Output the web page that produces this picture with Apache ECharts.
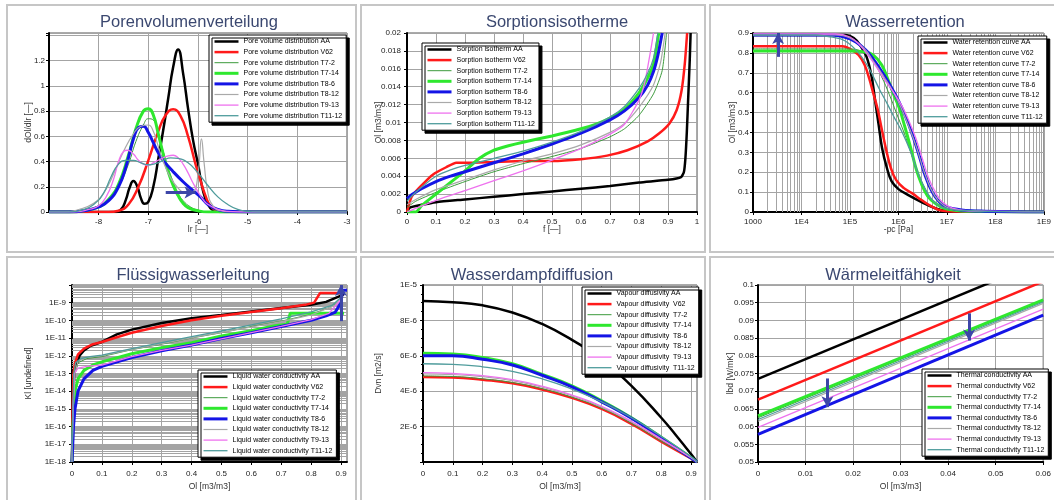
<!DOCTYPE html>
<html><head><meta charset="utf-8">
<script src="https://cdn.jsdelivr.net/npm/echarts@6/dist/echarts.min.js"></script>
<style>html,body{margin:0;padding:0;background:#fff}#c{width:1054px;height:500px}</style>
</head><body><div id="c"></div><script>
// ---------- series identity ----------
const seriesKeys = ['AA','V62','T7-2','T7-14','T8-6','T8-12','T9-13','T11-12'];
const lineColors = ['#000000','#ff1a1a','#3c9a3c','#2ee82e','#1414e6','#a9a9a9','#ee72ee','#4f9c9c'];
const lineWidths = [2.5,2.5,1,3,3,1.2,1.3,1.3];

// ---------- text ----------
const panelTitles = ['Porenvolumenverteilung','Sorptionsisotherme','Wasserretention','Flüssigwasserleitung','Wasserdampfdiffusion','Wärmeleitfähigkeit'];
const legendPrefixes = ['Pore volume distribution ','Sorption isotherm ','Water retention curve ','Liquid water conductivity ','Vapour diffusivity ','Thermal conductivity '];
const xAxisNames = ['lr [—]','f [—]','-pc [Pa]','Ol [m3/m3]','Ol [m3/m3]','Ol [m3/m3]'];
const yAxisNames = ['dOl/dlr [—]','Ol [m3/m3]','Ol [m3/m3]','Kl [undefined]','Dvn [m2/s]','lbd [W/mK]'];

// ---------- Panel 1: pore volume distribution ----------
const poreAA = [[-9,0],[-7.7,0],[-7.55,0.02],[-7.45,0.1],[-7.38,0.19],[-7.3,0.245],[-7.22,0.2],[-7.15,0.11],[-7.08,0.065],[-7.0,0.08],[-6.9,0.2],[-6.8,0.42],[-6.7,0.65],[-6.6,0.9],[-6.5,1.15],[-6.4,1.29],[-6.3,1.1],[-6.2,0.82],[-6.1,0.57],[-6.0,0.38],[-5.9,0.17],[-5.8,0.06],[-5.7,0.015],[-5.55,0],[-3,0]];
const poreV62 = [[-9,0],[-7.8,0],[-7.6,0.01],[-7.4,0.06],[-7.2,0.2],[-7.0,0.41],[-6.8,0.64],[-6.65,0.77],[-6.5,0.815],[-6.35,0.76],[-6.2,0.6],[-6.05,0.38],[-5.95,0.25],[-5.85,0.13],[-5.75,0.05],[-5.6,0.01],[-5.4,0],[-3,0]];
const poreT7_2 = [[-9,0],[-8.6,0],[-8.3,0.01],[-8.0,0.04],[-7.8,0.1],[-7.6,0.2],[-7.4,0.38],[-7.25,0.56],[-7.1,0.69],[-7.0,0.74],[-6.9,0.73],[-6.8,0.62],[-6.7,0.48],[-6.6,0.35],[-6.5,0.24],[-6.4,0.15],[-6.3,0.09],[-6.15,0.04],[-6.0,0.015],[-5.8,0],[-3,0]];
const poreT7_14 = [[-9,0],[-8.6,0],[-8.3,0.01],[-8.0,0.04],[-7.8,0.1],[-7.6,0.22],[-7.4,0.45],[-7.25,0.66],[-7.1,0.8],[-7.0,0.82],[-6.9,0.77],[-6.8,0.62],[-6.7,0.46],[-6.6,0.32],[-6.5,0.21],[-6.4,0.13],[-6.3,0.07],[-6.2,0.035],[-6.0,0.01],[-5.8,0],[-3,0]];
const poreT8_6 = [[-9,0],[-8.6,0],[-8.3,0.01],[-8.0,0.04],[-7.8,0.09],[-7.6,0.2],[-7.45,0.36],[-7.3,0.58],[-7.2,0.67],[-7.1,0.68],[-7.0,0.63],[-6.9,0.55],[-6.8,0.47],[-6.7,0.41],[-6.5,0.32],[-6.3,0.24],[-6.1,0.17],[-5.95,0.12],[-5.8,0.06],[-5.6,0.02],[-5.4,0.005],[-5.0,0],[-3,0]];
const poreT8_12 = [[-9,0],[-8.7,0],[-8.4,0.02],[-8.1,0.07],[-7.9,0.15],[-7.7,0.3],[-7.5,0.48],[-7.3,0.62],[-7.15,0.68],[-7.0,0.69],[-6.9,0.64],[-6.8,0.52],[-6.7,0.4],[-6.55,0.27],[-6.4,0.19],[-6.25,0.15],[-6.1,0.16],[-6.0,0.3],[-5.93,0.58],[-5.88,0.4],[-5.8,0.15],[-5.7,0.05],[-5.55,0.01],[-5.3,0],[-3,0]];
const poreT9_13 = [[-9,0],[-8.5,0],[-8.2,0.02],[-8.0,0.05],[-7.85,0.12],[-7.7,0.26],[-7.6,0.4],[-7.5,0.48],[-7.42,0.49],[-7.3,0.46],[-7.2,0.41],[-7.1,0.38],[-7.0,0.37],[-6.9,0.39],[-6.75,0.42],[-6.6,0.445],[-6.5,0.45],[-6.4,0.43],[-6.3,0.38],[-6.2,0.31],[-6.1,0.23],[-6.0,0.16],[-5.9,0.1],[-5.8,0.06],[-5.6,0.02],[-5.4,0.005],[-5.0,0],[-3,0]];
const poreT11_12 = [[-9,0],[-8.6,0],[-8.3,0.02],[-8.1,0.06],[-7.9,0.15],[-7.75,0.28],[-7.6,0.38],[-7.45,0.41],[-7.3,0.41],[-7.15,0.39],[-7.0,0.375],[-6.85,0.385],[-6.7,0.41],[-6.55,0.43],[-6.4,0.425],[-6.2,0.39],[-6.0,0.31],[-5.8,0.21],[-5.6,0.12],[-5.4,0.06],[-5.2,0.02],[-5.0,0.005],[-4.8,0],[-3,0]];

// ---------- Panel 2: sorption isotherm ----------
const sorpAA = [[0,0],[0.01,0.0005],[0.05,0.0008],[0.1,0.0011],[0.2,0.0014],[0.3,0.0017],[0.4,0.002],[0.5,0.0023],[0.6,0.0026],[0.7,0.0029],[0.8,0.0033],[0.9,0.0036],[0.945,0.0039],[0.955,0.0045],[0.96,0.006],[0.965,0.009],[0.97,0.013],[0.975,0.017],[0.978,0.02]];
const sorpV62 = [[0,0],[0.016,0.0017],[0.045,0.0028],[0.09,0.0042],[0.135,0.005],[0.17,0.0055],[0.2,0.0055],[0.3,0.0056],[0.4,0.0057],[0.5,0.0057],[0.6,0.0059],[0.69,0.0063],[0.76,0.0069],[0.83,0.0079],[0.87,0.0088],[0.905,0.0099],[0.93,0.0114],[0.947,0.0136],[0.958,0.0166],[0.966,0.02]];
const sorpT7_2 = [[0,0.0005],[0.03,0.0012],[0.1,0.0022],[0.2,0.0034],[0.3,0.0045],[0.4,0.0054],[0.5,0.0062],[0.6,0.0071],[0.7,0.0084],[0.75,0.0093],[0.8,0.0108],[0.85,0.0132],[0.88,0.0158],[0.895,0.02]];
const sorpT7_14 = [[0,0],[0.03,0],[0.05,0.0007],[0.1,0.002],[0.15,0.0033],[0.2,0.0046],[0.25,0.006],[0.3,0.0069],[0.35,0.0074],[0.4,0.0078],[0.5,0.0085],[0.6,0.0093],[0.65,0.0098],[0.7,0.0105],[0.75,0.0115],[0.8,0.0133],[0.83,0.015],[0.85,0.0165],[0.868,0.02]];
const sorpT8_6 = [[0,0.0015],[0.02,0.002],[0.05,0.0026],[0.1,0.0034],[0.15,0.004],[0.2,0.0045],[0.3,0.0055],[0.4,0.0065],[0.5,0.0076],[0.6,0.0088],[0.7,0.0103],[0.75,0.0113],[0.8,0.0128],[0.83,0.0142],[0.85,0.0157],[0.865,0.0175],[0.88,0.02]];
const sorpT8_12 = [[0,0.0008],[0.03,0.0014],[0.1,0.0025],[0.2,0.0036],[0.3,0.0047],[0.4,0.0057],[0.5,0.0065],[0.6,0.0075],[0.7,0.0089],[0.75,0.0099],[0.8,0.0117],[0.85,0.0142],[0.875,0.0168],[0.89,0.02]];
const sorpT9_13 = [[0,0],[0.03,0.0004],[0.1,0.0013],[0.2,0.0024],[0.3,0.0035],[0.4,0.0046],[0.5,0.0058],[0.6,0.0071],[0.7,0.0087],[0.75,0.0098],[0.8,0.0125],[0.82,0.0145],[0.84,0.018],[0.85,0.02]];
const sorpT11_12 = [[0,0.0012],[0.03,0.0022],[0.07,0.0033],[0.1,0.004],[0.15,0.0047],[0.2,0.0052],[0.3,0.006],[0.4,0.0068],[0.5,0.0078],[0.6,0.009],[0.7,0.0106],[0.75,0.0118],[0.8,0.0138],[0.83,0.0155],[0.85,0.0172],[0.865,0.02]];

// ---------- Panel 3: water retention ----------
const retAA = [[1000,0.89],[8e4,0.89],[1.2e5,0.875],[1.6e5,0.84],[2.2e5,0.78],[2.8e5,0.68],[3.3e5,0.56],[3.9e5,0.44],[4.6e5,0.32],[5.8e5,0.22],[7.2e5,0.155],[1e6,0.115],[1.6e6,0.085],[3e6,0.05],[5.6e6,0.02],[1e7,0.005],[3e7,0.002],[1e9,0]];
const retV62 = [[1000,0.833],[7e4,0.833],[1e5,0.82],[1.5e5,0.79],[2e5,0.74],[2.5e5,0.67],[3e5,0.6],[3.7e5,0.52],[4.5e5,0.42],[5.5e5,0.32],[7e5,0.22],[9e5,0.16],[1.3e6,0.12],[1.9e6,0.095],[3e6,0.06],[4.8e6,0.028],[7.6e6,0.008],[2e7,0.002],[1e9,0]];
const retT7_2 = [[1000,0.82],[1e5,0.82],[2e5,0.8],[3e5,0.76],[4.5e5,0.68],[6.5e5,0.59],[9e5,0.5],[1.3e6,0.4],[1.8e6,0.3],[2.5e6,0.2],[3.5e6,0.12],[5e6,0.06],[8e6,0.025],[2e7,0.007],[1e9,0]];
const retT7_14 = [[1000,0.81],[1e5,0.81],[2e5,0.805],[3e5,0.79],[4.5e5,0.74],[6e5,0.67],[8e5,0.59],[1.05e6,0.52],[1.35e6,0.43],[1.8e6,0.32],[2.3e6,0.22],[3e6,0.14],[4e6,0.08],[6e6,0.04],[1e7,0.015],[3e7,0.004],[1e9,0]];
const retT8_6 = [[1000,0.89],[4e4,0.89],[1e5,0.87],[2e5,0.82],[3e5,0.77],[5e5,0.69],[7e5,0.63],[1e6,0.56],[1.4e6,0.48],[2e6,0.38],[2.7e6,0.28],[3.6e6,0.18],[5e6,0.1],[7e6,0.05],[1e7,0.025],[2e7,0.01],[6e7,0.004],[1e9,0]];
const retT8_12 = [[1000,0.89],[5e4,0.89],[1e5,0.875],[2e5,0.82],[3e5,0.76],[5e5,0.68],[8e5,0.6],[1.2e6,0.51],[1.7e6,0.42],[2.4e6,0.32],[3.3e6,0.21],[4.6e6,0.12],[6.5e6,0.06],[1.1e7,0.02],[3e7,0.005],[1e9,0]];
const retT9_13 = [[1000,0.895],[5e4,0.895],[1e5,0.88],[1.6e5,0.84],[2.5e5,0.78],[3.5e5,0.73],[5e5,0.67],[8e5,0.6],[1.2e6,0.53],[1.7e6,0.45],[2.3e6,0.37],[3.1e6,0.27],[4.2e6,0.17],[5.8e6,0.1],[8e6,0.05],[1.3e7,0.02],[3e7,0.006],[1e9,0.002]];
const retT11_12 = [[1000,0.89],[2e4,0.89],[4e4,0.88],[8e4,0.86],[1.5e5,0.8],[2.5e5,0.72],[4e5,0.62],[6e5,0.54],[8e5,0.48],[1.2e6,0.4],[1.8e6,0.3],[2.5e6,0.2],[3.5e6,0.12],[5e6,0.06],[8e6,0.025],[2e7,0.008],[1e9,0]];

// ---------- Panel 4: liquid water conductivity ----------
const condAA = [[0,1e-18],[0.002,1e-16],[0.004,1e-14],[0.008,1e-13],[0.015,3e-13],[0.025,1e-12],[0.04,2e-12],[0.06,3.5e-12],[0.1,6e-12],[0.15,1.6e-11],[0.2,3e-11],[0.3,7e-11],[0.4,1.3e-10],[0.5,2e-10],[0.6,3.2e-10],[0.7,5e-10],[0.8,7.5e-10],[0.85,1.1e-9],[0.9,2.5e-9],[0.91,3e-9]];
const condV62 = [[0,1e-18],[0.002,1e-15],[0.005,1e-13],[0.01,4e-13],[0.02,1.2e-12],[0.04,2.5e-12],[0.07,4.5e-12],[0.1,6e-12],[0.15,1.1e-11],[0.2,2e-11],[0.3,4.8e-11],[0.4,1e-10],[0.5,1.8e-10],[0.6,3e-10],[0.7,4.8e-10],[0.78,7.5e-10],[0.81,1e-9],[0.83,3.5e-9],[0.9,3.5e-9],[0.905,3e-9]];
const condT7_2 = [[0,1e-18],[0.004,1e-15],[0.01,1e-13],[0.02,4e-13],[0.05,7e-13],[0.1,9e-13],[0.2,2.2e-12],[0.3,4.5e-12],[0.4,1e-11],[0.5,2e-11],[0.6,4.5e-11],[0.7,9e-11],[0.8,2.2e-10],[0.87,6e-10],[0.9,2e-9]];
const condT7_14 = [[0,1e-18],[0.003,1e-16],[0.01,1e-14],[0.02,5e-14],[0.04,1.5e-13],[0.07,3e-13],[0.1,4.5e-13],[0.2,1.3e-12],[0.3,2.8e-12],[0.4,5.5e-12],[0.5,1.3e-11],[0.6,2.6e-11],[0.68,5e-11],[0.72,6e-11],[0.73,2.5e-10],[0.91,2.5e-10]];
const condT8_6 = [[0,1e-18],[0.005,1e-16],[0.01,1e-15],[0.02,1e-14],[0.04,5e-14],[0.07,1.5e-13],[0.1,2.5e-13],[0.2,8e-13],[0.3,1.9e-12],[0.4,4e-12],[0.5,9.5e-12],[0.6,2e-11],[0.7,4.5e-11],[0.8,1e-10],[0.85,1.8e-10],[0.88,2.8e-10],[0.9,1e-9],[0.905,5e-9],[0.92,5e-9]];
const condT8_12 = [[0,1e-18],[0.004,1e-15],[0.01,1e-13],[0.02,5e-13],[0.05,8e-13],[0.1,1e-12],[0.2,2.3e-12],[0.3,4.8e-12],[0.4,1.05e-11],[0.5,2.1e-11],[0.6,4.2e-11],[0.7,8.5e-11],[0.8,2e-10],[0.88,7e-10],[0.9,2e-9]];
const condT9_13 = [[0,1e-18],[0.003,1e-15],[0.008,1e-13],[0.02,2e-13],[0.05,2.5e-13],[0.1,3e-13],[0.2,9e-13],[0.3,2e-12],[0.4,4e-12],[0.5,9e-12],[0.6,2e-11],[0.7,4.5e-11],[0.8,1.1e-10],[0.86,2.5e-10],[0.9,1.5e-9],[0.905,4e-9]];
const condT11_12 = [[0,1e-18],[0.003,1e-15],[0.006,1e-13],[0.012,4e-13],[0.03,7e-13],[0.06,9e-13],[0.1,1.1e-12],[0.2,2.5e-12],[0.3,5.5e-12],[0.4,1.2e-11],[0.5,2.5e-11],[0.6,5.5e-11],[0.7,1.2e-10],[0.8,3e-10],[0.87,7e-10],[0.9,2e-9],[0.905,3e-9]];

// ---------- Panel 5: vapour diffusivity ----------
const vapAA = [[0,9.1e-6],[0.1,9.03e-6],[0.2,8.85e-6],[0.3,8.45e-6],[0.4,7.8e-6],[0.5,6.9e-6],[0.6,5.8e-6],[0.7,4.3e-6],[0.8,2.5e-6],[0.85,1.5e-6],[0.9,0.45e-6],[0.92,0]];
const vapV62 = [[0,4.8e-6],[0.1,4.78e-6],[0.2,4.65e-6],[0.3,4.45e-6],[0.4,4.1e-6],[0.5,3.62e-6],[0.6,3e-6],[0.7,2.15e-6],[0.8,1.15e-6],[0.9,0.2e-6],[0.92,0]];
const vapT7_2 = [[0,4.86e-6],[0.1,4.83e-6],[0.2,4.7e-6],[0.3,4.49e-6],[0.4,4.14e-6],[0.5,3.66e-6],[0.6,3.04e-6],[0.7,2.18e-6],[0.8,1.17e-6],[0.9,0.21e-6],[0.92,0]];
const vapT7_14 = [[0,6.15e-6],[0.1,6.1e-6],[0.2,5.9e-6],[0.3,5.55e-6],[0.4,4.95e-6],[0.5,4.3e-6],[0.6,3.45e-6],[0.7,2.5e-6],[0.8,1.4e-6],[0.9,0.25e-6],[0.92,0]];
const vapT8_6 = [[0,6.0e-6],[0.1,6.0e-6],[0.2,5.8e-6],[0.3,5.48e-6],[0.4,4.9e-6],[0.5,4.25e-6],[0.6,3.4e-6],[0.7,2.47e-6],[0.8,1.36e-6],[0.9,0.22e-6],[0.92,0]];
const vapT8_12 = [[0,4.98e-6],[0.1,4.94e-6],[0.2,4.82e-6],[0.3,4.6e-6],[0.4,4.23e-6],[0.5,3.74e-6],[0.6,3.1e-6],[0.7,2.26e-6],[0.8,1.27e-6],[0.9,0.24e-6],[0.92,0]];
const vapT9_13 = [[0,5.05e-6],[0.1,5.0e-6],[0.2,4.88e-6],[0.3,4.65e-6],[0.4,4.28e-6],[0.5,3.78e-6],[0.6,3.15e-6],[0.7,2.3e-6],[0.8,1.3e-6],[0.9,0.25e-6],[0.92,0]];
const vapT11_12 = [[0,5.55e-6],[0.1,5.52e-6],[0.2,5.38e-6],[0.3,5.12e-6],[0.4,4.7e-6],[0.5,4.12e-6],[0.6,3.4e-6],[0.7,2.5e-6],[0.8,1.45e-6],[0.9,0.3e-6],[0.92,0]];

// ---------- Panel 6: thermal conductivity ----------
const thermAA = [[0,0.0735],[0.06,0.1069]];
const thermV62 = [[0,0.0676],[0.06,0.101]];
const thermT7_2 = [[0,0.0625],[0.06,0.0955]];
const thermT7_14 = [[0,0.063],[0.06,0.0958]];
const thermT8_6 = [[0,0.0578],[0.06,0.0915]];
const thermT8_12 = [[0,0.0615],[0.06,0.0948]];
const thermT9_13 = [[0,0.0598],[0.06,0.0932]];
const thermT11_12 = [[0,0.062],[0.06,0.0952]];

// ---------- annotation arrows (data coordinates) ----------
const poreArrows = [[[-6.65,0.155],[-6.05,0.155]]];
const retArrows = [[[3300,0.78],[3300,0.9]]];
const condArrows = [[[0.9,9e-11],[0.9,9.8e-9]]];
const thermArrows = [[[0.0146,0.0736],[0.0146,0.0655]],[[0.0444,0.092],[0.0444,0.0843]]];

// log minor grid multipliers
const logMinorMults = [2,3,4,5,6,7,8,9];

const panelData = [
  [poreAA,poreV62,poreT7_2,poreT7_14,poreT8_6,poreT8_12,poreT9_13,poreT11_12],
  [sorpAA,sorpV62,sorpT7_2,sorpT7_14,sorpT8_6,sorpT8_12,sorpT9_13,sorpT11_12],
  [retAA,retV62,retT7_2,retT7_14,retT8_6,retT8_12,retT9_13,retT11_12],
  [condAA,condV62,condT7_2,condT7_14,condT8_6,condT8_12,condT9_13,condT11_12],
  [vapAA,vapV62,vapT7_2,vapT7_14,vapT8_6,vapT8_12,vapT9_13,vapT11_12],
  [thermAA,thermV62,thermT7_2,thermT7_14,thermT8_6,thermT8_12,thermT9_13,thermT11_12]
];
const panelArrows = [poreArrows, [], retArrows, condArrows, [], thermArrows];

// ---------- layout ----------
const FONT = 'Liberation Sans';
const layout = [
  {grid:{left:49,top:33,width:298,height:179}, legend:{left:209,top:35}, title:[189,22], frame:[7,5,349,247]},
  {grid:{left:407,top:33,width:290,height:179}, legend:{left:422,top:43}, title:[557,22], frame:[361,5,344,247]},
  {grid:{left:753,top:33,width:294,height:179}, legend:{left:918,top:36}, title:[905,22], frame:[710,5,352,247]},
  {grid:{left:72,top:285,width:275,height:177}, legend:{left:198,top:370}, title:[193,275], frame:[7,257,349,250]},
  {grid:{left:423,top:285,width:274,height:177}, legend:{left:582,top:287}, title:[532,275], frame:[361,257,344,250]},
  {grid:{left:758,top:285,width:289,height:177}, legend:{left:922,top:369}, title:[893,275], frame:[710,257,352,250]}
];
const smoothing = [0.5, 0.2, 0.4, 0, 0.5, 0];
const fmtNum = v => String(+(+v).toPrecision(6));

const axisLine = {show:true, onZero:false, lineStyle:{color:'#000', width:2}};
const axisTick = {show:true, length:3, lineStyle:{color:'#000'}};
const splitLine = {show:true, lineStyle:{color:'#a4a4a4', width:1}};
const labelStyle = (margin) => ({fontSize:8, fontFamily:FONT, color:'#222', margin});
const nameStyle = {fontSize:8.5, fontFamily:FONT, color:'#333'};

const xAxes = [
  {min:-9, max:-3, interval:1, axisLabel:Object.assign(labelStyle(6),{showMinLabel:false}), nameGap:13},
  {min:0, max:1, interval:0.1, axisLabel:labelStyle(6), nameGap:13},
  {type:'log', logBase:10, min:1000, max:1e9, splitNumber:6, axisLabel:Object.assign(labelStyle(6),{formatter:v=>{const e=Math.round(Math.log10(v));return e===3?'1000':'1E'+e;}}), nameGap:13},
  {min:0, max:0.92, interval:0.1, axisLabel:Object.assign(labelStyle(8),{showMaxLabel:false}), nameGap:20},
  {min:0, max:0.92, interval:0.1, axisLabel:Object.assign(labelStyle(8),{showMaxLabel:false}), nameGap:20},
  {min:0, max:0.06, interval:0.01, axisLabel:labelStyle(8), nameGap:20}
];
const yAxes = [
  {min:0, max:1.42, interval:0.2, axisLabel:Object.assign(labelStyle(4),{formatter:v=>v>1.3?'':fmtNum(v)}), nameGap:16},
  {min:0, max:0.02, interval:0.002, axisLabel:labelStyle(6), nameGap:24},
  {min:0, max:0.9, interval:0.1, axisLabel:labelStyle(4), nameGap:16},
  {type:'log', logBase:10, min:1e-18, max:9.9e-9, splitNumber:10, axisLabel:Object.assign(labelStyle(6),{formatter:v=>{const lg=Math.log10(v);const e=Math.round(lg);if(Math.abs(lg-e)>0.01||e>-9)return '';return '1E'+e;}}), nameGap:39},
  {min:0, max:1e-5, interval:2e-6, minorTick:{show:true, splitNumber:4, length:2, lineStyle:{color:'#000'}}, axisLabel:Object.assign(labelStyle(6),{formatter:v=>{if(v<=0)return '';const e=Math.floor(Math.log10(v)+1e-9);return Math.round(v/Math.pow(10,e))+'E'+e;}}), nameGap:40},
  {min:0.05, max:0.1, interval:0.005, axisLabel:labelStyle(4), nameGap:23}
];

const option = {
  animation:false,
  backgroundColor:'#ffffff',
  textStyle:{fontFamily:FONT},
  grid:[], xAxis:[], yAxis:[], legend:[], series:[], graphic:[]
};

layout.forEach((p, i) => {
  option.grid.push(Object.assign({show:true, borderColor:'#555', borderWidth:1, backgroundColor:'transparent'}, p.grid));
  option.xAxis.push(Object.assign({type:'value', gridIndex:i, name:xAxisNames[i], nameLocation:'middle', nameMoveOverlap:false, nameTextStyle:nameStyle,
    axisLine, axisTick, splitLine}, xAxes[i]));
  option.yAxis.push(Object.assign({type:'value', gridIndex:i, name:yAxisNames[i], nameLocation:'middle', nameMoveOverlap:false, nameTextStyle:nameStyle,
    axisLine, axisTick, splitLine}, yAxes[i]));

  // panel frame and title
  const f = p.frame;
  option.graphic.push({type:'rect', shape:{x:f[0], y:f[1], width:f[2], height:f[3]}, style:{fill:'none', stroke:'#c6c6c6', lineWidth:2}, silent:true});
  option.graphic.push({type:'text', x:p.title[0], y:p.title[1], style:{text:panelTitles[i], fontSize:16.5, fontFamily:FONT, fill:'#3b4870', align:'center', verticalAlign:'middle'}, silent:true});

  // minor log grid lines (behind curves)
  const minorLines = [];
  if (i === 2) { for (let e = 3; e < 9; e++) logMinorMults.forEach(m => minorLines.push({xAxis: m * Math.pow(10, e)})); }
  if (i === 3) { for (let e = -18; e < -8; e++) logMinorMults.forEach(m => minorLines.push({yAxis: m * Math.pow(10, e)})); }
  if (minorLines.length) {
    option.series.push({type:'line', name:'_grid'+i, xAxisIndex:i, yAxisIndex:i, data:[], silent:true, z:1,
      markLine:{silent:true, z:1, precision:20, symbol:'none', animation:false, label:{show:false}, lineStyle:{type:'solid', color:'#a4a4a4', width:1}, data:minorLines}});
  }

  const names = seriesKeys.map((k, j) => legendPrefixes[i] + (i === 4 && j > 0 ? ' ' : '') + k);
  panelData[i].forEach((d, j) => {
    option.series.push({
      type:'line', name:names[j], xAxisIndex:i, yAxisIndex:i, data:d,
      showSymbol:false, symbol:'none', smooth:smoothing[i] || false, clip:true,
      lineStyle:{color:lineColors[j], width:lineWidths[j]}, itemStyle:{color:lineColors[j]}, z:2
    });
  });

  if (panelArrows[i].length) {
    option.series.push({type:'line', name:'_arrow'+i, xAxisIndex:i, yAxisIndex:i, data:[], silent:true, z:5,
      markLine:{silent:true, z:6, precision:20, symbol:['none','arrow'], symbolSize:[9,11], animation:false, label:{show:false},
        lineStyle:{type:'solid', color:'#3d46a8', width:3},
        data: panelArrows[i].map(a => [{coord:a[0]},{coord:a[1]}])}});
  }

  option.legend.push({
    data:names, orient:'vertical', left:p.legend.left, top:p.legend.top, align:'left',
    itemWidth:24, itemHeight:8, itemGap:3.6, padding:[3,4,3,4],
    backgroundColor:'#fff', borderColor:'#000', borderWidth:1,
    shadowColor:'#000', shadowBlur:0.01, shadowOffsetX:3, shadowOffsetY:3,
    selectedMode:false, lineStyle:{width:'inherit'}, itemStyle:{opacity:0},
    textStyle:{fontSize:7, fontFamily:FONT, color:'#000'}
  });
});

const chart = echarts.init(document.getElementById('c'), null, {renderer:'canvas'});
chart.setOption(option);
</script></body></html>
